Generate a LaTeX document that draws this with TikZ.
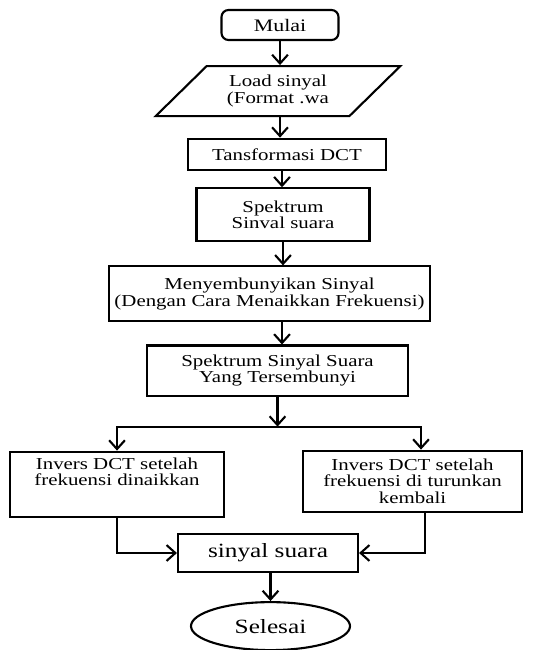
\documentclass[tikz,border=0pt]{standalone}
\usepackage{fontspec}
\setmainfont{Liberation Serif}[FakeStretch=1.25]
\usetikzlibrary{positioning,shapes.geometric,arrows.meta}

\begin{document}
\begin{tikzpicture}[node distance=0.45cm,
        box/.style={draw, rectangle, line width=1.2pt, align=center, font=\fontsize{9.5}{9.5}\selectfont},
        arr/.style={-{Straight Barb[length=5pt,width=9pt]}, line width=1.2pt}]
    \useasboundingbox (0,0) rectangle (10.78,-13);

    \node (mulai) [box, rounded corners=4pt, minimum width=2.34cm, minimum height=0.6cm, font=\fontsize{10}{10}\selectfont] at (5.6,-0.5) {Mulai};
    \node (load) [box, trapezium, trapezium left angle=47, trapezium right angle=133, trapezium stretches=true, minimum width=4.9cm, minimum height=1cm, below=0.48cm of mulai, xshift=-0.04cm] {Load sinyal\\(Format .wa};
    \node (tdct) [box, minimum width=3.96cm, minimum height=0.62cm, below=0.41cm of load, xshift=0.18cm] {Tansformasi DCT};
    \node (spek) [box, minimum width=3.46cm, minimum height=1.06cm, below=0.33cm of tdct, xshift=-0.08cm] {Spektrum\\Sinval suara};
    \node (sembunyi) [box, minimum width=5.94cm, minimum height=1.1cm, below=0.46cm of spek, xshift=-0.27cm] {Menyembunyikan Sinyal\\(Dengan Cara Menaikkan Frekuensi)};
    \node (spekhide) [box, minimum width=5.22cm, minimum height=1cm, below=0.44cm of sembunyi, xshift=0.16cm] {Spektrum Sinyal Suara\\Yang Tersembunyi};
    \coordinate [below=0.6cm of spekhide] (cabang);
    \node (invnaik) [box, minimum width=4.28cm, minimum height=1.24cm, text depth=0.5cm, below=1.08cm of spekhide, xshift=-3.21cm] {Invers DCT setelah\\frekuensi dinaikkan};
    \node (invturun) [box, minimum width=4.38cm, minimum height=1.22cm, below=1.06cm of spekhide, xshift=2.7cm] {Invers DCT setelah\\frekuensi di turunkan\\kembali};
    \node (suara) [box, minimum width=3.6cm, minimum height=0.76cm, font=\fontsize{11.5}{11.5}\selectfont] at (5.36,-11.06) {sinyal suara};
    \node (selesai) [draw, ellipse, line width=1.2pt, minimum width=3.18cm, minimum height=0.96cm, font=\fontsize{11.5}{11.5}\selectfont, below=0.56cm of suara, xshift=0.05cm] {Selesai};

    \draw[arr] (mulai.south) -- (mulai.south |- load.north);
    \draw[arr] ([xshift=0.04cm]load.south) -- ([xshift=0.04cm]load.south |- tdct.north);
    \draw[arr] ([xshift=-0.1cm]tdct.south) -- ([xshift=-0.1cm]tdct.south |- spek.north);
    \draw[arr] (spek.south) -- (spek.south |- sembunyi.north);
    \draw[arr] ([xshift=0.25cm]sembunyi.south) -- ([xshift=0.25cm]sembunyi.south |- spekhide.north);
    \draw[arr] (spekhide.south) -- (cabang);
    \draw[arr] (cabang) -| (invnaik.north);
    \draw[arr] (cabang) -| ([xshift=0.17cm]invturun.north);
    \draw[arr] (invnaik.south) |- (suara.west);
    \draw[arr] ([xshift=0.25cm]invturun.south) |- (suara.east);
    \draw[arr] ([xshift=0.05cm]suara.south) -- (selesai.north);
\end{tikzpicture}
\end{document}
